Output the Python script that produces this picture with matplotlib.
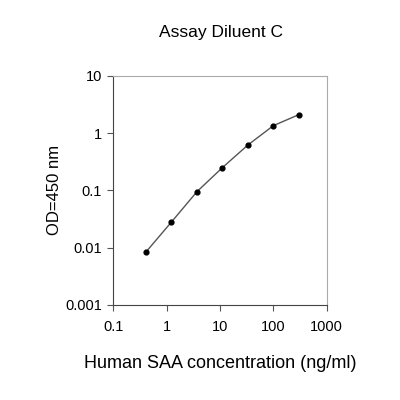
import matplotlib
matplotlib.use("Agg")
import matplotlib.pyplot as plt

plt.rcParams['font.family'] = ['Liberation Sans', 'DejaVu Sans']

# Standard curve values
conc = [0.41, 1.23, 3.7, 11.1, 33.3, 100, 300]
od = [0.0084, 0.028, 0.095, 0.25, 0.62, 1.35, 2.1]

x_ticks = [0.1, 1, 10, 100, 1000]
x_labels = ['0.1', '1', '10', '100', '1000']
y_ticks = [0.001, 0.01, 0.1, 1, 10]
y_labels = ['0.001', '0.01', '0.1', '1', '10']

fig = plt.figure(figsize=(4, 4), dpi=100)
ax = fig.add_axes([0.283, 0.2375, 0.534, 0.573])

ax.plot(conc, od, color='#555555', lw=1.0, zorder=1)
ax.scatter(conc, od, s=12, color='black', zorder=2)

ax.set_xscale('log')
ax.set_yscale('log')
ax.set_xlim(0.1, 1000)
ax.set_ylim(0.001, 10)
ax.set_xticks(x_ticks)
ax.set_xticklabels(x_labels)
ax.set_yticks(y_ticks)
ax.set_yticklabels(y_labels)
ax.minorticks_off()
ax.tick_params(labelsize=10.5, length=4, width=0.8, color='#555555', pad=4)
ax.tick_params(axis='x', pad=7)

for side in ['left', 'bottom']:
    ax.spines[side].set_color('#444444')
for side in ['top', 'right']:
    ax.spines[side].set_color('#aaaaaa')

ax.set_xlabel('Human SAA concentration (ng/ml)', fontsize=13, labelpad=15)
ax.set_ylabel('OD=450 nm', fontsize=12, labelpad=2)
fig.text(0.552, 0.92, 'Assay Diluent C', ha='center', va='center', fontsize=12.5)

fig.savefig('out.png', dpi=100, facecolor='white')
